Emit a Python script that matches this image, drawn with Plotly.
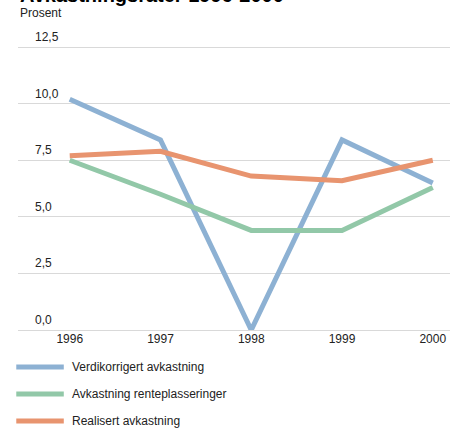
import plotly.graph_objects as go

years = [1996, 1997, 1998, 1999, 2000]
verdikorrigert = [10.2, 8.4, 0.0, 8.4, 6.5]
renteplasseringer = [7.5, 6.0, 4.4, 4.4, 6.3]
realisert = [7.7, 7.9, 6.8, 6.6, 7.5]

y_ticks = [0.0, 2.5, 5.0, 7.5, 10.0, 12.5]

series = [
    ("Verdikorrigert avkastning", verdikorrigert, "#8DB1D3"),
    ("Avkastning renteplasseringer", renteplasseringer, "#92C8A8"),
    ("Realisert avkastning", realisert, "#E8946F"),
]

FONT = "Liberation Sans, Arial, sans-serif"
TXT = "#222222"

fig = go.Figure()
for name, vals, color in series:
    fig.add_trace(go.Scatter(
        x=years, y=vals, name=name, mode="lines",
        line=dict(color=color, width=5),
        showlegend=False,
    ))

# ── hand-made legend below the chart (long line keys) ──
for i, (name, _, color) in enumerate(series):
    ly = -0.130 - i * 0.0952
    fig.add_shape(
        type="line", xref="paper", yref="paper",
        x0=-0.004, x1=0.106, y0=ly, y1=ly,
        line=dict(color=color, width=5),
    )
    fig.add_annotation(
        x=0.121, y=ly, xref="paper", yref="paper",
        text=name, showarrow=False, xanchor="left", yanchor="middle",
        font=dict(size=12, color=TXT, family=FONT),
    )

# y tick labels sit above the gridlines, on the left
for v in y_ticks:
    fig.add_annotation(
        x=0.035, y=v, xref="paper", yref="y",
        text=f"{v:.1f}".replace(".", ","),
        showarrow=False, xanchor="left", yanchor="bottom", yshift=1,
        font=dict(size=12, color=TXT, family=FONT),
    )

# title (mostly cut off at the top edge) and unit label
fig.add_annotation(
    x=0.0, y=1, xref="paper", yref="paper", yshift=38,
    text="<b>Avkastningsrater 1996-2000</b>", showarrow=False,
    xanchor="left", yanchor="bottom",
    font=dict(size=20, color="#000000", family=FONT),
)
fig.add_annotation(
    x=0.0, y=1, xref="paper", yref="paper", yshift=33,
    text="Prosent", showarrow=False,
    xanchor="left", yanchor="middle",
    font=dict(size=12, color=TXT, family=FONT),
)

fig.update_layout(
    width=458, height=428,
    paper_bgcolor="white", plot_bgcolor="white",
    margin=dict(l=18, r=8, t=46, b=98),
    font=dict(size=12, color=TXT, family=FONT),
    showlegend=False,
    xaxis=dict(
        range=[1995.43, 2000.19], tickvals=years, ticktext=[str(y) for y in years],
        showgrid=False, zeroline=False, showline=False, ticks="",
        tickfont=dict(size=12, color=TXT),
    ),
    yaxis=dict(
        range=[0, 12.55], tickvals=y_ticks, showticklabels=False,
        showgrid=True, gridcolor="#D9D9D9", gridwidth=1,
        zeroline=True, zerolinecolor="#D9D9D9", zerolinewidth=1,
        showline=False, ticks="",
    ),
)

# drop the default 8px page margin so the figure sits flush with the window
fig.write_html(
    "out.html",
    config={"displayModeBar": False},
    post_script="document.body.style.margin='0';",
)
